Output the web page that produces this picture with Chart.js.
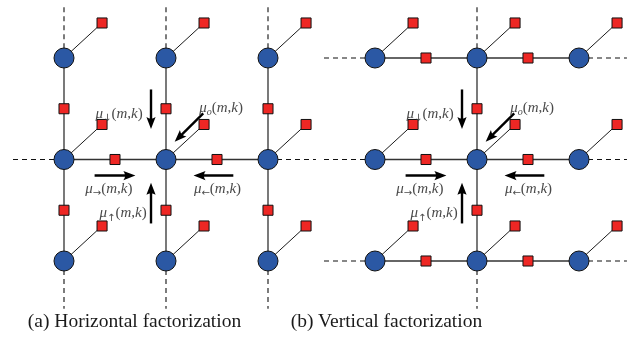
<!DOCTYPE html>
<html>
<head>
<meta charset="utf-8">
<script src="https://cdn.jsdelivr.net/npm/chart.js@4"></script>
<style>
  html, body { margin: 0; padding: 0; background: #fff; }
  #wrap { position: relative; width: 636px; height: 358px; overflow: hidden; }
  #wrap canvas { position: absolute; top: 0; }
  .caption {
    position: absolute; top: 311px; width: 300px; text-align: center;
    font: 19.5px "Liberation Serif", "Times New Roman", serif; line-height: 20px;
    color: #1a1a1a; white-space: nowrap;
  }
</style>
</head>
<body>
<div id="wrap">
  <canvas id="panelA" width="318" height="358" style="left:0"></canvas>
  <canvas id="panelB" width="318" height="358" style="left:318px"></canvas>
  <div class="caption" id="capA" style="left:-15.5px"></div>
  <div class="caption" id="capB" style="left:236.5px"></div>
</div>
<script>
// 3x3 grid of variable nodes (column / row indices)
const gridCols = [0, 1, 2];
const gridRows = [0, 1, 2];

// which columns / rows are chained by pairwise factors in each panel
const chainColsA = [0, 1, 2];
const chainRowsA = [1];
const chainColsB = [1];
const chainRowsB = [0, 1, 2];

// message directions into the centre node
const messageSubscripts = ['↓', '↑', '→', '←', 'o'];

const captions = ['(a) Horizontal factorization', '(b) Vertical factorization'];

// ---- drawing helpers -------------------------------------------------
const X_STEP = 102, Y_STEP = 101.5;      // px per grid unit
const ROW0_PX = 58;
const OBS_DX = 0.373, OBS_DY = -0.345;   // observation factor offset
const EXT = 0.47;                        // dashed continuation length

const NODE_BLUE = '#2b58a4';
const FACTOR_RED = '#ee2724';

function segment(p, q, style) {
  return Object.assign({
    type: 'scatter', showLine: true, pointRadius: 0,
    data: [{ x: p[0], y: p[1] }, { x: q[0], y: q[1] }],
    borderColor: '#333', borderWidth: 1.3, order: 5
  }, style || {});
}

function buildDatasets(chainCols, chainRows) {
  const nodes = [], factors = [], ds = [];
  const lastC = gridCols[gridCols.length - 1], lastR = gridRows[gridRows.length - 1];
  const dashed = { borderDash: [5, 4], borderColor: '#111', borderWidth: 1.1, order: 6 };

  gridCols.forEach(c => gridRows.forEach(r => {
    nodes.push({ x: c, y: r });
    factors.push({ x: c + OBS_DX, y: r + OBS_DY });
    ds.push(segment([c, r], [c + OBS_DX, r + OBS_DY], { borderColor: '#1a1a1a', borderWidth: 1 }));
  }));

  chainCols.forEach(c => {
    ds.push(segment([c, gridRows[0]], [c, lastR]));
    for (let i = 0; i < gridRows.length - 1; i++)
      factors.push({ x: c, y: (gridRows[i] + gridRows[i + 1]) / 2 });
    ds.push(segment([c, gridRows[0] - EXT - 0.03], [c, gridRows[0]], dashed));
    ds.push(segment([c, lastR], [c, lastR + EXT], dashed));
  });
  chainRows.forEach(r => {
    ds.push(segment([gridCols[0], r], [lastC, r]));
    for (let i = 0; i < gridCols.length - 1; i++)
      factors.push({ x: (gridCols[i] + gridCols[i + 1]) / 2, y: r });
    ds.push(segment([gridCols[0] - 0.5, r], [gridCols[0], r], dashed));
    ds.push(segment([lastC, r], [lastC + EXT, r], dashed));
  });

  ds.push({
    type: 'scatter', data: nodes, pointStyle: 'circle', pointRadius: 10,
    backgroundColor: NODE_BLUE, borderColor: '#111', borderWidth: 1, order: 0
  });
  ds.push({
    type: 'scatter', data: factors, pointStyle: 'rect', pointRadius: 7.1,
    backgroundColor: FACTOR_RED, borderColor: '#111', borderWidth: 1, order: 1
  });
  return ds;
}

// arrows and their labels, relative to the centre node (grid units)
const messageGeometry = {
  '↓': { from: [-0.147, -0.69], to: [-0.147, -0.30], label: [-0.46, -0.46] },
  '↑': { from: [-0.147, 0.63], to: [-0.147, 0.23], label: [-0.42, 0.52] },
  '→': { from: [-0.70, 0.158], to: [-0.30, 0.158], label: [-0.56, 0.28] },
  '←': { from: [0.66, 0.158], to: [0.27, 0.158], label: [0.505, 0.28] },
  'o': { from: [0.365, -0.455], to: [0.085, -0.175], label: [0.54, -0.52] }
};

function drawArrow(ctx, x1, y1, x2, y2) {
  const a = Math.atan2(y2 - y1, x2 - x1);
  const L = 12, W = 4.6;
  ctx.save();
  ctx.strokeStyle = '#000';
  ctx.fillStyle = '#000';
  ctx.lineWidth = 2.4;
  ctx.beginPath();
  ctx.moveTo(x1, y1);
  ctx.lineTo(x2 - Math.cos(a) * L * 0.6, y2 - Math.sin(a) * L * 0.6);
  ctx.stroke();
  ctx.translate(x2, y2);
  ctx.rotate(a);
  ctx.beginPath();
  ctx.moveTo(0, 0);
  ctx.lineTo(-L, -W);
  ctx.quadraticCurveTo(-L * 0.72, 0, -L, W);
  ctx.closePath();
  ctx.fill();
  ctx.restore();
}

function drawMessageLabel(ctx, cx, cy, sub) {
  const serif = '"Liberation Serif", "Times New Roman", serif';
  const runs = [
    { t: 'μ', f: 'italic 15px ' + serif, dy: 0 },
    sub === 'o'
      ? { t: 'o', f: 'italic 10px ' + serif, dy: 3 }
      : { t: sub, f: '10px "DejaVu Sans", sans-serif', dy: 3.5 },
    { t: '(', f: '15px ' + serif, dy: 0 },
    { t: 'm', f: 'italic 15px ' + serif, dy: 0 },
    { t: ',', f: '15px ' + serif, dy: 0 },
    { t: 'k', f: 'italic 15px ' + serif, dy: 0 },
    { t: ')', f: '15px ' + serif, dy: 0 }
  ];
  ctx.save();
  ctx.fillStyle = '#4a4a4a';
  ctx.textBaseline = 'alphabetic';
  ctx.textAlign = 'left';
  let total = 0;
  runs.forEach(r => { ctx.font = r.f; r.w = ctx.measureText(r.t).width; total += r.w; });
  let x = cx - total / 2;
  const base = cy + 5;
  runs.forEach(r => { ctx.font = r.f; ctx.fillText(r.t, x, base + r.dy); x += r.w; });
  ctx.restore();
}

const messagePlugin = {
  id: 'messages',
  afterDatasetsDraw(chart) {
    const xs = chart.scales.x, ys = chart.scales.y, ctx = chart.ctx;
    const cc = gridCols[1], cr = gridRows[1];
    messageSubscripts.forEach(s => {
      const g = messageGeometry[s];
      drawArrow(ctx,
        xs.getPixelForValue(cc + g.from[0]), ys.getPixelForValue(cr + g.from[1]),
        xs.getPixelForValue(cc + g.to[0]), ys.getPixelForValue(cr + g.to[1]));
      drawMessageLabel(ctx,
        xs.getPixelForValue(cc + g.label[0]), ys.getPixelForValue(cr + g.label[1]), s);
    });
  }
};

function makePanel(id, chainCols, chainRows, col0Px) {
  const W = 318, H = 358;
  new Chart(document.getElementById(id), {
    data: { datasets: buildDatasets(chainCols, chainRows) },
    options: {
      responsive: false, animation: false, devicePixelRatio: 1, events: [],
      layout: { padding: 0, autoPadding: false },
      plugins: { legend: { display: false }, tooltip: { enabled: false }, title: { display: false } },
      scales: {
        x: { type: 'linear', display: false, min: -col0Px / X_STEP, max: (W - col0Px) / X_STEP },
        y: { type: 'linear', display: false, reverse: true, min: -ROW0_PX / Y_STEP, max: (H - ROW0_PX) / Y_STEP }
      }
    },
    plugins: [messagePlugin]
  });
}

makePanel('panelA', chainColsA, chainRowsA, 64);
makePanel('panelB', chainColsB, chainRowsB, 57);
document.getElementById('capA').textContent = captions[0];
document.getElementById('capB').textContent = captions[1];
</script>
</body>
</html>
